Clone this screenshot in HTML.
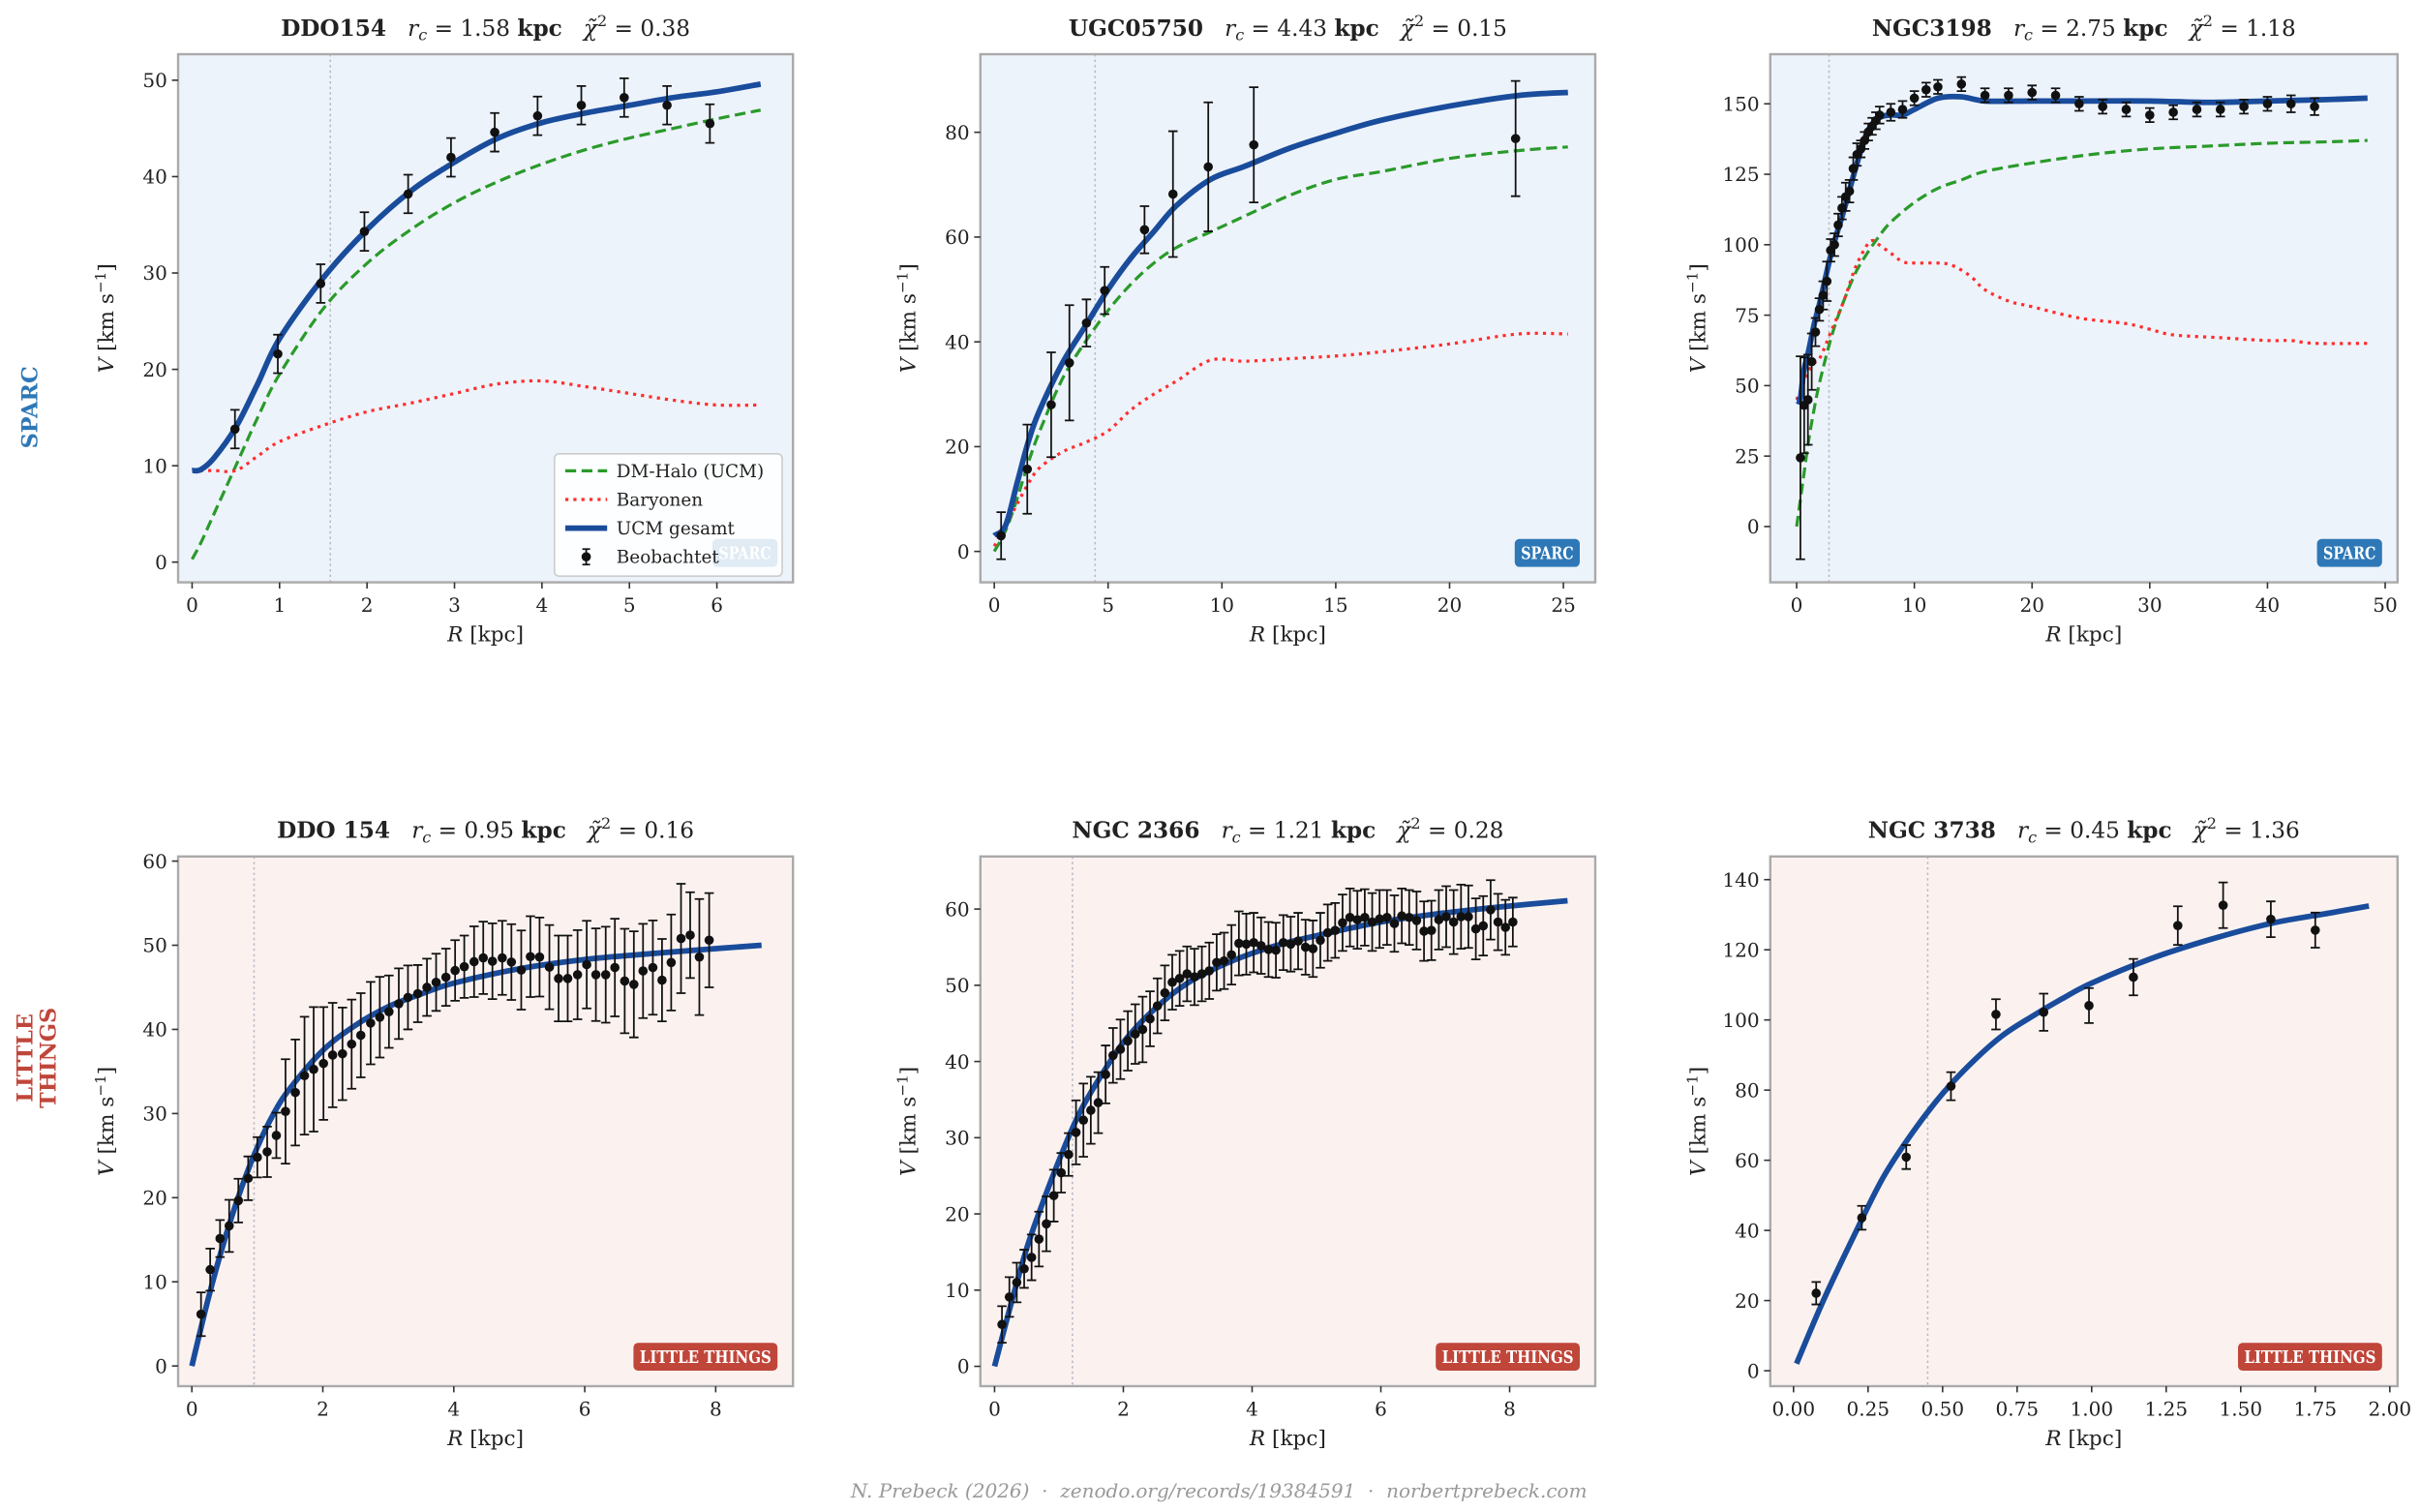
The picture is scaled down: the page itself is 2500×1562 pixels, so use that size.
<!DOCTYPE html>
<html><head><meta charset="utf-8"><title>Rotation curves</title>
<style>
html,body{margin:0;padding:0;background:#fff;}
svg{display:block;}
text{font-family:"DejaVu Serif","Liberation Serif",serif;fill:#222;white-space:pre;}
</style></head>
<body>
<svg id="fig" xmlns="http://www.w3.org/2000/svg" width="2500" height="1562" viewBox="0 0 1562.5 976.25">
<rect x="0" y="0" width="1562.5" height="976.25" fill="#fff"/>
<text x="24" y="263" transform="rotate(-90 24 263)" text-anchor="middle" font-size="14" font-weight="bold" style="fill:#2e78b7">SPARC</text>
<text transform="rotate(-90 25 683)" x="25" y="683" text-anchor="middle" font-size="14" font-weight="bold" style="fill:#c0463a"><tspan x="25" dy="-4">LITTLE</tspan><tspan x="25" dy="15">THINGS</tspan></text>
<text x="787" y="967" text-anchor="middle" font-size="12.5" font-style="italic" style="fill:#999">N. Prebeck (2026)  ·  zenodo.org/records/19384591  ·  norbertprebeck.com</text>
</svg>
<script>
// ---------- DATA ----------
const p1ObsR = [0.49,0.98,1.47,1.97,2.47,2.96,3.46,3.95,4.45,4.94,5.43,5.92];
const p1ObsV = [13.8,21.6,28.9,34.3,38.2,42.0,44.6,46.3,47.4,48.2,47.4,45.5];
const p1ObsE = [2,2,2,2,2,2,2,2,2,2,2,2];
const p1ModR = [0,0.1,0.25,0.5,0.75,1,1.5,2,2.5,3,3.5,4,4.5,5,5.5,6,6.5];
const p1TotV = [9.5,9.6,10.8,14,18.5,23.2,29.5,34.5,38.5,41.5,44,45.6,46.6,47.4,48.2,48.8,49.6];
const p1DmV  = [0.3,2,5,10,15,19.5,26.3,31,34.5,37.3,39.5,41.3,42.8,44,45,46,46.9];
const p1BarV = [9.5,9.5,9.5,9.5,11,12.5,14.2,15.6,16.5,17.5,18.5,18.8,18.2,17.5,16.8,16.3,16.3];
const p2ObsR = [0.3,1.45,2.5,3.3,4.05,4.85,6.6,7.85,9.4,11.4,22.9];
const p2ObsV = [3,15.7,28,36,43.6,49.8,61.4,68.2,73.4,77.6,78.8];
const p2ObsE = [4.5,8.5,10,11,4.5,4.5,4.5,12,12.3,11,11];
const p2ModR = [0,0.5,1,1.5,2,3,4,5,6,7,8,9.5,11,13,15,17,20,23,25.2];
const p2TotV = [3,5,13,21,27,36,43,50,56,61,66,71,73.5,77,79.8,82.3,85,87,87.6];
const p2DmV  = [0,4,10,17,23,33,40,46,51,55,58,61,64,68,71,72.5,75,76.5,77.2];
const p2BarV = [1,5,9,13,16,19,20.8,23,27,30,32.5,36.5,36.3,36.8,37.3,38.1,39.6,41.5,41.5];
const p3ObsR = [0.32,0.64,0.96,1.28,1.6,1.93,2.25,2.57,2.89,3.21,3.53,3.85,4.17,4.49,4.81,5.13,5.45,5.77,6.09,6.41,6.73,7.05,8,9,10,11,12,14,16,18,20,22,24,26,28,30,32,34,36,38,40,42,44];
const p3ObsV = [24.4,43,45,58.5,69,77,82,87,98,100,107,113,117,119,127,132,134,137,140,142,144,146,147,148,152,155,156,157,153,153,154,153,150,149,148,146,147,148,148,149,150,150,149];
const p3ObsE = [36,17,16,10,5,4,5,7,4,4,4,4,5,4,4,4,3,3,3,3,3,3,3,3,2.5,2.5,2.5,2.5,2.5,2.5,2.5,2.5,2.5,2.5,2.5,2.5,2.5,2.5,2.5,2.5,2.5,3,3];
const p3TotR = [0,0.3,0.6,1,1.5,2,3,4,5,6,7,8,9,10,12,14,16,20,25,30,35,40,45,48.5];
const p3TotV = [45,45,55,62,72,80,98,112,127,140,145,146,146,148,152,152.5,151,151,151,151,150.5,151,151.5,152];
const p3DmR  = [0,0.5,1,1.5,2,3,4,5,6,7,8,10,12,14,16,20,25,30,35,40,45,48.5];
const p3DmV  = [0,15,30,42,52,68,80,90,97,103,108,115,120,123,126,129,132,134,135,136,136.5,137];
const p3BarR = [0,0.5,1,1.5,2,3,4,5,6,6.5,7,8,9,10,12,13,14,15,16,18,20,24,28,30,32,36,40,42,44,48.5];
const p3BarV = [45,50,55,58,60,70,80,92,100,101.5,100,97,94,93.5,93.5,93,91,88,84,80,78,74,72,70,68,67,66,66,65,65];
const p4ObsR = [0.14,0.28,0.43,0.57,0.71,0.86,1.0,1.15,1.29,1.43,1.58,1.72,1.86,2.01,2.15,2.3,2.44,2.58,2.73,2.87,3.01,3.16,3.3,3.45,3.59,3.73,3.88,4.02,4.16,4.31,4.45,4.59,4.74,4.88,5.03,5.17,5.31,5.46,5.6,5.74,5.89,6.03,6.17,6.32,6.46,6.61,6.75,6.89,7.04,7.18,7.32,7.47,7.61,7.75,7.9];
const p4ObsV = [6.15,11.45,15.15,16.65,19.65,22.3,24.8,25.45,27.4,30.25,32.5,34.5,35.25,35.95,36.95,37.1,38.25,39.3,40.75,41.45,42.1,43.05,43.8,44.25,45,45.6,46.2,47,47.45,48.05,48.5,48.1,48.5,48,47.05,48.65,48.6,47.4,46.05,46.05,46.5,47.7,46.5,46.5,47.35,45.75,45.35,46.95,47.35,45.85,47.95,50.8,51.2,48.6,50.6];
const p4ObsE = [2.6,2.5,2.2,3.1,2.6,2.6,2.4,3,2.7,6.2,6.3,7,7.4,6.7,6.2,5.5,5.3,5,4.9,4.8,4.3,4.2,3.8,3.4,3.4,3.4,3.4,3.6,3.7,4.2,4.3,4.5,4.4,4.5,4.7,4.8,4.7,5,5.1,5.1,5.3,5.2,5.5,5.7,5.8,6.2,6.3,5.6,5.6,4.9,5.7,6.5,5.1,6.9,5.6];
const p4ModR = [0,0.25,0.5,0.75,1,1.25,1.5,2,2.5,3,3.5,4,5,6,7,8,8.7];
const p4TotV = [0,8,15,21,26,30,33,37.5,40.5,42.7,44.2,45.5,47.2,48.3,49,49.6,50];
const p5ObsR = [0.115,0.23,0.345,0.46,0.575,0.69,0.805,0.92,1.035,1.15,1.265,1.38,1.495,1.61,1.725,1.84,1.955,2.07,2.185,2.3,2.415,2.53,2.645,2.76,2.875,2.99,3.105,3.22,3.335,3.45,3.565,3.68,3.795,3.91,4.025,4.14,4.255,4.37,4.485,4.6,4.715,4.83,4.945,5.06,5.175,5.29,5.405,5.52,5.635,5.75,5.865,5.98,6.095,6.21,6.325,6.44,6.555,6.67,6.785,6.9,7.015,7.13,7.245,7.36,7.475,7.59,7.705,7.82,7.935,8.05];
const p5ObsV = [5.5,9.1,11,12.8,14.3,16.7,18.7,22.4,25.4,27.8,30.7,32.3,33.6,34.6,38.3,40.8,41.6,42.7,43.6,44.2,45.6,47.3,49,50.4,50.9,51.5,51.1,51.5,51.9,53,53.2,54,55.5,55.4,55.6,55.2,54.7,54.6,55.6,55.4,55.8,55,54.8,55.9,56.9,57.2,58.2,58.9,58.6,58.9,58.3,58.7,58.9,58.1,59.1,58.9,58.5,57.1,57.2,58.6,59,58.3,59,59,57.4,57.8,59.9,58.3,57.6,58.3];
const p5ObsE = [2.4,2.6,2.6,2.5,3,3.6,3.6,3.4,2.6,2.8,4.2,4.8,4.4,4,3.8,3.6,3.9,3.9,3.9,4.3,3.6,3.6,3.6,3.6,3.6,3.6,3.7,3.6,3.7,3.7,3.7,3.9,4.2,4,3.9,3.7,3.6,3.6,3.6,3.6,3.7,3.6,3.7,3.6,3.7,3.6,3.7,3.8,3.8,3.7,3.8,3.8,3.6,3.7,3.6,3.6,3.8,3.9,3.9,3.9,4,4.2,4.2,4.1,4,3.9,3.9,3.7,3.6,3.2];
const p5ModR = [0,0.25,0.5,0.75,1,1.25,1.5,2,2.5,3,3.5,4,4.5,5,6,7,8,8.9];
const p5TotV = [0,8,15.5,21.5,27,32,36,42.5,47,50.3,52.5,54.2,55.5,56.5,58.3,59.5,60.4,61.1];
const p6ObsR = [0.076,0.229,0.378,0.528,0.679,0.839,0.991,1.14,1.289,1.441,1.601,1.75];
const p6ObsV = [22.1,43.6,60.9,81.1,101.6,102.2,104.1,112.2,126.9,132.7,128.7,125.6];
const p6ObsE = [3.2,3.4,3.4,4,4.3,5.3,5,5.2,5.5,6.5,5.1,5];
const p6ModR = [0.01,0.1,0.2,0.3,0.4,0.5,0.6,0.7,0.8,0.9,1,1.2,1.4,1.6,1.8,1.93];
const p6TotV = [2,20,38,55,68,79,88,95.5,101,106,110.5,117.5,123,127.5,130.5,132.5];
const p1XTicks = [0,1,2,3,4,5,6];            const p1YTicks = [0,10,20,30,40,50];
const p2XTicks = [0,5,10,15,20,25];          const p2YTicks = [0,20,40,60,80];
const p3XTicks = [0,10,20,30,40,50];         const p3YTicks = [0,25,50,75,100,125,150];
const p4XTicks = [0,2,4,6,8];                const p4YTicks = [0,10,20,30,40,50,60];
const p5XTicks = [0,2,4,6,8];                const p5YTicks = [0,10,20,30,40,50,60];
const p6XTicks = [0,0.25,0.5,0.75,1,1.25,1.5,1.75,2]; const p6YTicks = [0,20,40,60,80,100,120,140];
const names = ["DDO154","UGC05750","NGC3198","DDO 154","NGC 2366","NGC 3738"];
const rcValues = [1.58,4.43,2.75,0.95,1.21,0.45];
const chiValues = [0.38,0.15,1.18,0.16,0.28,1.36];

// ---------- LAYOUT ----------
const NS = "http://www.w3.org/2000/svg";
const svg = document.getElementById("fig");
function mk(tag, attrs, parent){
  const el = document.createElementNS(NS, tag);
  for (const k in attrs) el.setAttribute(k, attrs[k]);
  (parent || svg).appendChild(el);
  return el;
}
const BLUE = "#1a4c9c", GREEN = "#2a9a2a", RED = "#ff2d2d";
const panels = [
  {box:[115,35,512,376], xr:[-0.16,6.87], yr:[-2.1,52.7], bg:"#edf3fb", xt:p1XTicks, yt:p1YTicks, dec:0,
   obs:[p1ObsR,p1ObsV,p1ObsE], tot:[p1ModR,p1TotV], dm:[p1ModR,p1DmV], bar:[p1ModR,p1BarV], badge:"SPARC", legend:true},
  {box:[633,35,1030,376], xr:[-0.61,26.4], yr:[-5.9,94.9], bg:"#edf3fb", xt:p2XTicks, yt:p2YTicks, dec:0,
   obs:[p2ObsR,p2ObsV,p2ObsE], tot:[p2ModR,p2TotV], dm:[p2ModR,p2DmV], bar:[p2ModR,p2BarV], badge:"SPARC"},
  {box:[1143,35,1548,376], xr:[-2.24,51.05], yr:[-19.8,167.6], bg:"#edf3fb", xt:p3XTicks, yt:p3YTicks, dec:0,
   obs:[p3ObsR,p3ObsV,p3ObsE], tot:[p3TotR,p3TotV], dm:[p3DmR,p3DmV], bar:[p3BarR,p3BarV], badge:"SPARC"},
  {box:[115,553,512,895], xr:[-0.21,9.18], yr:[-2.4,60.55], bg:"#fbf2f0", xt:p4XTicks, yt:p4YTicks, dec:0,
   obs:[p4ObsR,p4ObsV,p4ObsE], tot:[p4ModR,p4TotV], badge:"LITTLE THINGS"},
  {box:[633,553,1030,895], xr:[-0.22,9.33], yr:[-2.6,66.9], bg:"#fbf2f0", xt:p5XTicks, yt:p5YTicks, dec:0,
   obs:[p5ObsR,p5ObsV,p5ObsE], tot:[p5ModR,p5TotV], badge:"LITTLE THINGS"},
  {box:[1143,553,1548,895], xr:[-0.078,2.026], yr:[-4.4,146.6], bg:"#fbf2f0", xt:p6XTicks, yt:p6YTicks, dec:2,
   obs:[p6ObsR,p6ObsV,p6ObsE], tot:[p6ModR,p6TotV], badge:"LITTLE THINGS"}
];

function smoothPath(pts){
  let d = "M" + pts[0][0].toFixed(2) + "," + pts[0][1].toFixed(2);
  for (let k = 0; k < pts.length - 1; k++) {
    const p0 = pts[Math.max(0,k-1)], p1 = pts[k], p2 = pts[k+1], p3 = pts[Math.min(pts.length-1,k+2)];
    const c1x = p1[0] + (p2[0]-p0[0])/6, c1y = p1[1] + (p2[1]-p0[1])/6;
    const c2x = p2[0] - (p3[0]-p1[0])/6, c2y = p2[1] - (p3[1]-p1[1])/6;
    d += `C${c1x.toFixed(2)},${c1y.toFixed(2)} ${c2x.toFixed(2)},${c2y.toFixed(2)} ${p2[0].toFixed(2)},${p2[1].toFixed(2)}`;
  }
  return d;
}

panels.forEach((p, i) => {
  const [x0,y0,x1,y1] = p.box;
  const sx = v => x0 + (v - p.xr[0]) / (p.xr[1] - p.xr[0]) * (x1 - x0);
  const sy = v => y1 - (v - p.yr[0]) / (p.yr[1] - p.yr[0]) * (y1 - y0);
  const g = mk("g", {});
  
  
  const bg = mk("rect", {x:x0, y:y0, width:x1-x0, height:y1-y0, fill:p.bg}, g);
  
  
  const cp = mk("clipPath", {id:"clip"+i}, g);
  mk("rect", {x:x0, y:y0, width:x1-x0, height:y1-y0}, cp);
  const plot = mk("g", {"clip-path":"url(#clip"+i+")"}, g);

  const rc = mk("line", {x1:sx(rcValues[i]), x2:sx(rcValues[i]), y1:y0, y2:y1, stroke:"#b9b9c4", "stroke-width":1, "stroke-dasharray":"1.5,2"}, plot);
  
  

  const path = (xs, ys) => smoothPath(xs.map((x,k) => [sx(x), sy(ys[k])]));
  if (p.dm) {
    const dm = mk("path", {d:path(p.dm[0], p.dm[1]), fill:"none", stroke:GREEN, "stroke-width":2, "stroke-dasharray":"7,3.5"}, plot);
    
    
  }
  if (p.bar) {
    const br = mk("path", {d:path(p.bar[0], p.bar[1]), fill:"none", stroke:RED, "stroke-width":2, "stroke-dasharray":"2,3.2"}, plot);
    
    
  }
  const tot = mk("path", {d:path(p.tot[0], p.tot[1]), fill:"none", stroke:BLUE, "stroke-width":3.6, "stroke-linejoin":"round"}, plot);
  
  

  const [orr, ov, oe] = p.obs;
  orr.forEach((r, k) => {
    const x = sx(r), ya = sy(ov[k] + oe[k]), yb = sy(ov[k] - oe[k]);
    const eb = mk("path", {d:`M${x},${ya}V${yb}M${x-3},${ya}H${x+3}M${x-3},${yb}H${x+3}`, stroke:"#111", "stroke-width":1.1, fill:"none"}, plot);
    
    
    const pt = mk("circle", {cx:x, cy:sy(ov[k]), r:3, fill:"#111"}, plot);
    
    
  });

  const isS = p.badge === "SPARC";
  const bw = isS ? 42 : 93;
  const bx = x1 - 10 - bw, byy = y1 - 28;
  const bdg = mk("rect", {x:bx, y:byy, width:bw, height:18, rx:3, fill:isS ? "#2e78b7" : "#c0463a"}, g);
  
  
  const bt = mk("text", {x:bx + 4, y:byy + 13, "font-size":11, "font-weight":"bold", textLength:bw-8, lengthAdjust:"spacingAndGlyphs", style:"fill:#fff"}, g);
  bt.textContent = p.badge;
  
  

  const sp = mk("rect", {x:x0, y:y0, width:x1-x0, height:y1-y0, fill:"none", stroke:"#aaaaaa", "stroke-width":1.5}, g);
  
  

  p.xt.forEach(t => {
    const x = sx(t);
    const tk = mk("line", {x1:x, x2:x, y1:y1, y2:y1+4, stroke:"#333", "stroke-width":1}, g);
    
    
    const tl = mk("text", {x:x, y:y1+19, "text-anchor":"middle", "font-size":12.5}, g);
    tl.textContent = t.toFixed(p.dec);
    
    
  });
  p.yt.forEach(t => {
    const y = sy(t);
    const tk = mk("line", {x1:x0-4, x2:x0, y1:y, y2:y, stroke:"#333", "stroke-width":1}, g);
    
    
    const tl = mk("text", {x:x0-7, y:y+4.5, "text-anchor":"end", "font-size":12.5}, g);
    tl.textContent = t;
    
    
  });

  const xl = mk("text", {x:(x0+x1)/2, y:y1+38, "text-anchor":"middle", "font-size":13.5}, g);
  xl.innerHTML = '<tspan font-style="italic">R</tspan> [kpc]';
  
  
  const ylx = x0 - 42, yly = (y0+y1)/2;
  const yl = mk("text", {x:ylx, y:yly, transform:`rotate(-90 ${ylx} ${yly})`, "text-anchor":"middle", "font-size":13.5}, g);
  yl.innerHTML = '<tspan font-style="italic">V</tspan> [km s<tspan dy="-5" font-size="9.5">−1</tspan><tspan dy="5">]</tspan>';
  
  

  const tt = mk("text", {x:(x0+x1)/2, y:y0-12, "text-anchor":"middle", "font-size":14.5}, g);
  tt.innerHTML = `<tspan font-weight="bold">${names[i]}</tspan><tspan>   </tspan><tspan font-style="italic">r</tspan><tspan font-style="italic" font-size="10" dy="3">c</tspan><tspan dy="-3"> = ${rcValues[i].toFixed(2)} </tspan><tspan font-weight="bold">kpc</tspan><tspan>   </tspan><tspan font-style="italic">χ̃</tspan><tspan font-size="10" dy="-6">2</tspan><tspan dy="6"> = ${chiValues[i].toFixed(2)}</tspan>`;
  
  

  if (p.legend) {
    const lg = mk("g", {}, g);
    
    
    mk("rect", {x:358, y:293, width:147, height:79, rx:3, fill:"#fff", "fill-opacity":0.85, stroke:"#cccccc", "stroke-width":1}, lg);
    const items = [["DM-Halo (UCM)","dm"],["Baryonen","bar"],["UCM gesamt","tot"],["Beobachtet","obs"]];
    items.forEach((it, k) => {
      const y = 304 + k*18.5;
      if (it[1] === "dm") mk("line", {x1:365, x2:392, y1:y, y2:y, stroke:GREEN, "stroke-width":2, "stroke-dasharray":"7,3.5"}, lg);
      if (it[1] === "bar") mk("line", {x1:365, x2:392, y1:y, y2:y, stroke:RED, "stroke-width":2, "stroke-dasharray":"2,3.2"}, lg);
      if (it[1] === "tot") mk("line", {x1:365, x2:392, y1:y, y2:y, stroke:BLUE, "stroke-width":3.6}, lg);
      if (it[1] === "obs") { mk("path", {d:`M378.5,${y-5}V${y+5}M376,${y-5}H381M376,${y+5}H381`, stroke:"#111", "stroke-width":1.1}, lg); mk("circle", {cx:378.5, cy:y, r:3, fill:"#111"}, lg); }
      const lt = mk("text", {x:398, y:y+4, "font-size":11.5}, lg);
      lt.textContent = it[0];
      
      
    });
  }
});
</script>
</body></html>
